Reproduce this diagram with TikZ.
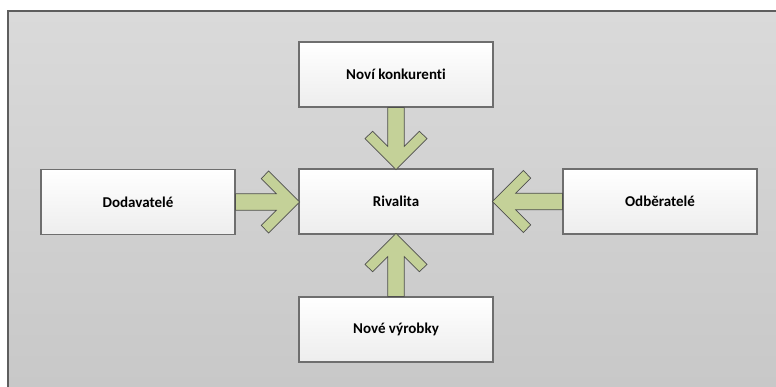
\documentclass[tikz,border=0pt]{standalone}
\usepackage{fontspec}
\setmainfont[Ligatures=NoCommon]{Carlito}
\begin{document}
\definecolor{panelTop}{HTML}{DADADA}
\definecolor{panelBot}{HTML}{C8C8C8}
\definecolor{panelEdge}{HTML}{5E5E5E}
\definecolor{boxEdge}{HTML}{6E6E6E}
\definecolor{arrowFill}{RGB}{196,209,152}
\definecolor{arrowEdge}{HTML}{4F4F4F}
\tikzset{
  force/.style={draw=boxEdge, line width=1.1pt, top color=white, bottom color=black!7,
    minimum width=194pt, minimum height=65pt, inner sep=0pt,
    font=\fontsize{15}{17}\selectfont\bfseries},
  % block arrow: stem from the origin along x, chevron head ending at x = #1
  chev/.pic={
    \draw[fill=arrowFill, draw=arrowEdge, line width=0.7pt, line join=miter]
      (0,8.3) -- (#1-23.3,8.3) -- (#1-38.3,23.3) -- (#1-31,31) -- (#1,0)
      -- (#1-31,-31) -- (#1-38.3,-23.3) -- (#1-23.3,-8.3) -- (0,-8.3) -- cycle;
  }
}
\begin{tikzpicture}[x=1pt, y=1pt]
  \useasboundingbox (0,0) rectangle (776,-387);
  % grey panel
  \fill[top color=panelTop, bottom color=panelBot] (8,-11) rectangle (776,-387);
  \draw[panelEdge, line width=2pt] (8,-387) -- (8,-11) -- (776,-11);

  \node[force] (riv) at (396,-201.5) {Rivalita};
  \node[force] (nk)  at (396,-74.5)  {Noví konkurenti};
  \node[force] (nv)  at (396,-329.5) {Nové výrobky};
  \node[force] (dod) at (138,-202)   {Dodavatelé};
  \node[force] (odb) at (660,-201.5) {Odběratelé};

  % arrows pointing into the centre box
  \pic[rotate=-90] at (nk.south)  {chev=62};
  \pic[rotate=90]  at (nv.north)  {chev=63};
  \pic             at (dod.east)  {chev=64};
  \pic[rotate=180] at (odb.west)  {chev=70};
\end{tikzpicture}
\end{document}
